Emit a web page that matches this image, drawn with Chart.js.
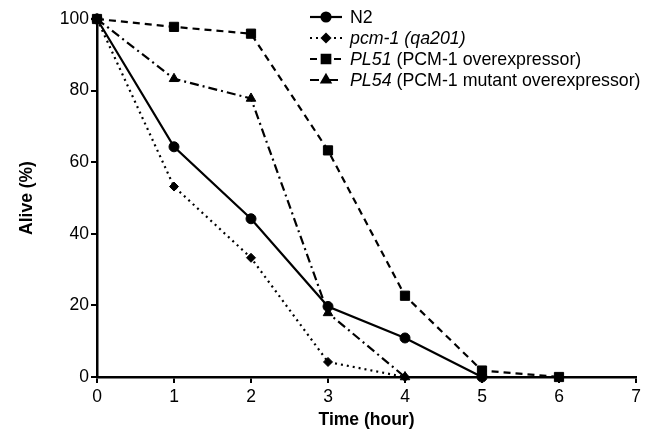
<!DOCTYPE html>
<html>
<head>
<meta charset="utf-8">
<script src="https://cdn.jsdelivr.net/npm/chart.js@4.4.1/dist/chart.umd.min.js"></script>
<style>
  html, body { margin: 0; padding: 0; background: #fff; }
  #wrap { width: 659px; height: 438px; }
</style>
</head>
<body>
<div id="wrap"><canvas id="myChart" width="659" height="438"></canvas></div>
<script>
// hours after exposure
var hours = [0, 1, 2, 3, 4, 5, 6]

// percent alive per strain
var n2 = [100, 64.3, 44.2, 19.7, 10.9, 0]
var pcm1 = [100, 53.2, 33.3, 4.2, 0]
var pl51 = [100, 97.8, 95.9, 63.3, 22.7, 1.8, 0]
var pl54 = [100, 83.3, 77.8, 17.9, 0]

var xTicks = [0, 1, 2, 3, 4, 5, 6, 7]
var yTicks = [0, 20, 40, 60, 80, 100]

// legend text, split into italic / plain runs
var legendN2 = [['N2', false]]
var legendPcm1 = [['pcm-1 (qa201)', true]]
var legendPl51 = [['PL51', true], [' (PCM-1 overexpressor)', false]]
var legendPl54 = [['PL54', true], [' (PCM-1 mutant overexpressor)', false]]

var FONT = '"Liberation Sans", Arial, Helvetica, sans-serif'

function toPoints (ys) {
  var pts = []
  for (var i = 0; i < ys.length; i++) {
    pts.push({x: hours[i], y: ys[i]})
  }
  return pts
}

function makeSet (label, ys, style, radius, dash, runs) {
  return {
    label: label,
    data: toPoints(ys),
    borderColor: '#000',
    backgroundColor: '#000',
    borderWidth: 2.2,
    borderDash: dash,
    pointStyle: style,
    pointRadius: radius,
    pointBorderWidth: 1,
    pointBorderColor: '#000',
    pointBackgroundColor: '#000',
    clip: false,
    tension: 0,
    runs: runs
  }
}

var datasets = [
  makeSet('N2', n2, 'circle', 5, [], legendN2),
  makeSet('pcm-1 (qa201)', pcm1, 'rectRot', 4.5, [2, 4], legendPcm1),
  makeSet('PL51 (PCM-1 overexpressor)', pl51, 'rect', 6.5, [7, 5], legendPl51),
  makeSet('PL54 (PCM-1 mutant overexpressor)', pl54, 'triangle', 5.5, [9, 4, 2, 4], legendPl54)
]

// legend drawn by hand so the line samples keep their dash + marker
var legendPlugin = {
  id: 'customLegend',
  afterDraw (chart) {
    var ctx = chart.ctx
    var x0 = 310, x1 = 342, tx = 350
    var rowY = [17, 38, 59, 80]
    ctx.save()
    chart.data.datasets.forEach(function (ds, i) {
      var y = rowY[i]
      ctx.strokeStyle = '#000'
      ctx.lineWidth = 2.2
      ctx.setLineDash(ds.borderDash)
      ctx.beginPath()
      ctx.moveTo(x0, y)
      ctx.lineTo(x1, y)
      ctx.stroke()
      ctx.setLineDash([])
      ctx.fillStyle = '#000'
      Chart.helpers.drawPoint(ctx, {pointStyle: ds.pointStyle, radius: ds.pointRadius - 0.5, borderWidth: 1}, (x0 + x1) / 2, y)
      ctx.fill()
      var cx = tx
      ctx.textBaseline = 'middle'
      ds.runs.forEach(function (r) {
        ctx.font = (r[1] ? 'italic ' : '') + '17.8px ' + FONT
        ctx.fillText(r[0], cx, y + 1)
        cx += ctx.measureText(r[0]).width
      })
    })
    ctx.restore()
  }
}

var ctx = document.getElementById('myChart').getContext('2d')
var chart = new Chart(ctx, {
  type: 'line',
  data: {datasets: datasets},
  plugins: [legendPlugin],
  options: {
    responsive: false,
    animation: false,
    layout: {padding: {top: 19, right: 23, left: 17, bottom: 0}},
    plugins: {legend: {display: false}, tooltip: {enabled: false}},
    scales: {
      x: {
        type: 'linear',
        min: 0,
        max: 7,
        afterBuildTicks (s) { s.ticks = xTicks.map(function (v) { return {value: v} }) },
        afterFit (s) { s.height = 61 },
        grid: {drawOnChartArea: false, drawTicks: true, tickLength: 6, color: '#000', lineWidth: 2},
        border: {display: true, color: '#000', width: 2.5},
        ticks: {color: '#000', font: {family: FONT, size: 17.5}, padding: 4, maxRotation: 0},
        title: {display: true, text: 'Time (hour)', color: '#000', font: {family: FONT, size: 17.5, weight: 'bold'}, padding: {top: 4, bottom: 7}}
      },
      y: {
        min: 0,
        max: 100,
        afterBuildTicks (s) { s.ticks = yTicks.map(function (v) { return {value: v} }) },
        afterFit (s) { s.width = 80 },
        grid: {drawOnChartArea: false, drawTicks: true, tickLength: 6, color: '#000', lineWidth: 2},
        border: {display: true, color: '#000', width: 2.5},
        ticks: {color: '#000', font: {family: FONT, size: 17.5}, padding: 2},
        title: {display: true, text: 'Alive (%)', color: '#000', font: {family: FONT, size: 17.5, weight: 'bold'}, padding: {top: 0, bottom: 0}}
      }
    }
  }
})
</script>
</body>
</html>
